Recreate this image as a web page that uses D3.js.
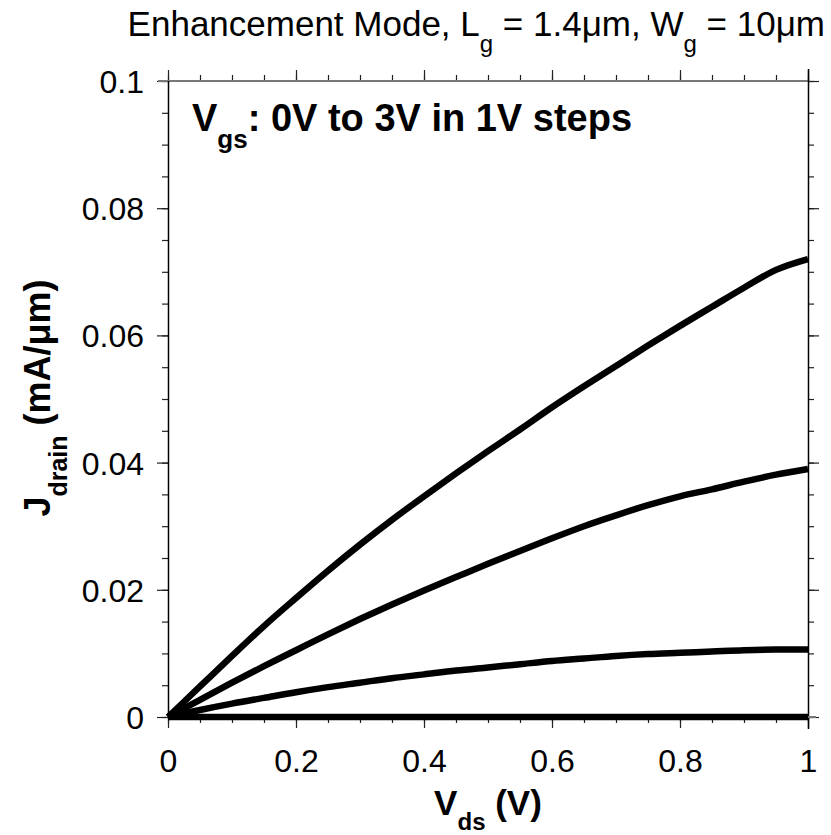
<!DOCTYPE html>
<html><head><meta charset="utf-8">
<script src="https://cdn.jsdelivr.net/npm/d3@7"></script>
<style>body{margin:0;background:#fff}svg{display:block}text{font-family:"Liberation Sans",Arial,sans-serif}</style>
</head><body>
<script>
const vds = [0,0.05,0.1,0.15,0.2,0.25,0.3,0.35,0.4,0.45,0.5,0.55,0.6,0.65,0.7,0.75,0.8,0.85,0.9,0.95,1];
const j0V = [0,0,0,0,0,0,0,0,0,0,0,0,0,0,0,0,0,0,0,0,0];
const j1V = [0,0.0011,0.0021,0.0030,0.0039,0.0047,0.0054,0.0061,0.0067,0.0073,0.0078,0.0083,0.0088,0.0092,0.0096,0.0099,0.0101,0.0103,0.0105,0.0106,0.0106];
const j2V = [0,0.0027,0.0054,0.0080,0.0105,0.0130,0.0154,0.0177,0.0199,0.0220,0.0241,0.0261,0.0281,0.0300,0.0317,0.0333,0.0347,0.0358,0.0370,0.0381,0.0390];
const j3V = [0,0.0048,0.0096,0.0143,0.0187,0.0230,0.0271,0.0310,0.0347,0.0383,0.0418,0.0452,0.0487,0.0520,0.0552,0.0584,0.0615,0.0645,0.0675,0.0703,0.0720];
const xTicks = [0,0.2,0.4,0.6,0.8,1];
const xTickLabels = ["0","0.2","0.4","0.6","0.8","1"];
const yTicks = [0,0.02,0.04,0.06,0.08,0.1];
const yTickLabels = ["0","0.02","0.04","0.06","0.08","0.1"];

const W=831,H=835, L=168, R=808, T=81, B=717;
const svg = d3.select("body").append("svg").attr("width",W).attr("height",H);
const x = d3.scaleLinear().domain([0,1]).range([L,R]);
const y = d3.scaleLinear().domain([0,0.1]).range([B,T]);

const minorX = d3.range(0,21).map(i=>i*0.05);
const minorY = d3.range(0,21).map(i=>i*0.005);

function axis(gen, ticks, size, tr, labels){
  const g = svg.append("g").attr("transform",tr)
    .call(gen.tickValues(ticks).tickSize(size).tickFormat(labels?((d,i)=>labels[i]):""));
  g.select(".domain").remove();
  g.selectAll("line").attr("stroke","#222").attr("stroke-width",1.2);
  g.selectAll("text").attr("font-size",32).attr("fill","#000").style("font-family","Liberation Sans, Arial, sans-serif");
  return g;
}
// bottom
axis(d3.axisBottom(x), minorX, 6, `translate(0,${B})`);
const bx = axis(d3.axisBottom(x), xTicks, 11, `translate(0,${B})`, xTickLabels);
bx.selectAll("text").attr("dy",0).attr("y",55);
// top
axis(d3.axisTop(x), minorX, 6, `translate(0,${T})`);
axis(d3.axisTop(x), xTicks, 11, `translate(0,${T})`);
// left
axis(d3.axisLeft(y), minorY, 6, `translate(${L},0)`);
const ly = axis(d3.axisLeft(y), yTicks, 11, `translate(${L},0)`, yTickLabels);
ly.selectAll("text").attr("x",-24).attr("dy","0.36em");
// right
axis(d3.axisRight(y), minorY, 6, `translate(${R},0)`);
axis(d3.axisRight(y), yTicks, 11, `translate(${R},0)`);

// frame
svg.append("line").attr("x1",L-10).attr("x2",R+1).attr("y1",T).attr("y2",T).attr("stroke","#777").attr("stroke-width",2);
svg.append("line").attr("x1",L+0.5).attr("x2",L+0.5).attr("y1",T).attr("y2",B).attr("stroke","#000").attr("stroke-width",1.5);
svg.append("line").attr("x1",R+0.5).attr("x2",R+0.5).attr("y1",T-12).attr("y2",B+12).attr("stroke","#000").attr("stroke-width",1.5);
svg.append("line").attr("x1",L).attr("x2",R+8).attr("y1",B).attr("y2",B).attr("stroke","#777").attr("stroke-width",2);

const line = d3.line().x((d,i)=>x(vds[i])).y(d=>y(d)).curve(d3.curveMonotoneX);
[j0V,j1V,j2V,j3V].forEach(s=>{
  svg.append("path").datum(s).attr("d",line).attr("fill","none")
    .attr("stroke","#000").attr("stroke-width",6.5).attr("stroke-linejoin","round").attr("stroke-linecap","butt");
});

// title
const t = svg.append("text").attr("x",825).attr("y",36).attr("text-anchor","end").attr("font-size",35).attr("fill","#000");
t.append("tspan").text("Enhancement Mode, L");
t.append("tspan").attr("dy",16).attr("font-size",24).text("g");
t.append("tspan").attr("dy",-16).text(" = 1.4\u03bcm, W");
t.append("tspan").attr("dy",16).attr("font-size",24).text("g");
t.append("tspan").attr("dy",-16).text(" = 10\u03bcm");

// annotation
const a = svg.append("text").attr("x",192).attr("y",131).attr("font-size",38).attr("font-weight","bold").attr("fill","#000");
a.append("tspan").text("V");
a.append("tspan").attr("dy",17).attr("font-size",26).text("gs");
a.append("tspan").attr("dy",-17).text(": 0V to 3V in 1V steps");

// x label
const xl = svg.append("text").attr("x",488).attr("y",815).attr("text-anchor","middle").attr("font-size",35).attr("font-weight","bold").attr("fill","#000");
xl.append("tspan").text("V");
xl.append("tspan").attr("dy",15).attr("font-size",24).text("ds");
xl.append("tspan").attr("dy",-15).text(" (V)");

// y label
const yl = svg.append("text").attr("transform","translate(50,398) rotate(-90)").attr("text-anchor","middle").attr("font-size",36).attr("font-weight","bold").attr("fill","#000");
yl.append("tspan").text("J");
yl.append("tspan").attr("dy",17).attr("font-size",25).text("drain");
yl.append("tspan").attr("dy",-17).text(" (mA/\u03bcm)");
</script>
</body></html>
